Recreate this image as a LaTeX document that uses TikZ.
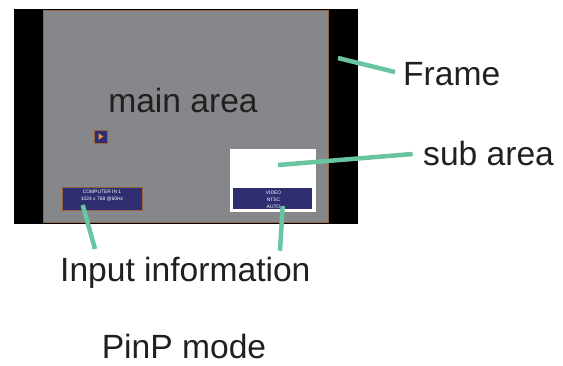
\documentclass[tikz,border=0pt]{standalone}
\usepackage{fontspec}
\setmainfont{Liberation Sans}
\definecolor{scrgray}{RGB}{134,135,138}
\definecolor{navy}{RGB}{46,46,112}
\definecolor{rim}{RGB}{150,100,60}
\definecolor{leadcol}{RGB}{104,197,160}
\definecolor{ink}{RGB}{35,31,32}
\definecolor{tri}{RGB}{240,150,40}
\begin{document}
\begin{tikzpicture}[x=1pt,y=-1pt,
  box/.style={inner sep=0pt, outer sep=0pt, anchor=north west},
  label/.style={text=ink, inner sep=0pt, font=\fontsize{33.6}{38}\selectfont},
  tiny/.style={text=white, inner sep=0pt, align=center, font=\fontsize{4.9}{7}\selectfont},
  leader/.style={draw=leadcol, line width=4.5pt}]
\useasboundingbox (0,0) rectangle (563,365);
% screen
\node[box, fill=black, minimum width=344pt, minimum height=215pt] (frame) at (14,9) {};
\node[box, fill=scrgray, draw=rim, line width=0.9pt, minimum width=285pt, minimum height=212.5pt] (main) at (43,10) {};
\node[box, fill=white, minimum width=86pt, minimum height=63pt] (sub) at (229.5,149) {};
\node[box, fill=navy, minimum width=79.5pt, minimum height=21pt] (vbox) at (232.5,188) {};
\node[box, fill=navy, draw=rim, line width=0.8pt, minimum width=80pt, minimum height=22.3pt] (cbox) at (62,187.7) {};
\node[box, fill=navy, draw=rim, line width=0.8pt, minimum width=13pt, minimum height=13pt] (icon) at (94,130) {};
\fill[tri] (98.5,133.2) -- (98.5,139.8) -- (103.2,136.5) -- cycle;
% small texts
\node[tiny] (ctext) at (102,195.5) {COMPUTER IN 1\\1024 x 768 @60Hz};
\node[tiny] (vtext) at (273.5,199.5) {VIDEO\\NTSC\\AUTO};
% labels
\node[label, anchor=base] (mainlbl) at (183,112) {main area};
\node[label, anchor=base west] (framelbl) at (403,85) {Frame};
\node[label, anchor=base west] (sublbl) at (423,165) {sub area};
\node[label, anchor=base west] (inputlbl) at (60,281.5) {Input information};
\node[label, anchor=base] (modelbl) at (184,358) {PinP mode};
% leaders
\coordinate (f1) at (338,58); \coordinate (f2) at (395,72);
\coordinate (s1) at (278,165); \coordinate (s2) at (412.7,154);
\coordinate (i1) at (82.7,205); \coordinate (i2) at (95,249);
\coordinate (j1) at (282.7,206); \coordinate (j2) at (280,250.7);
\draw[leader] (f1) -- (f2);
\draw[leader] (s1) -- (s2);
\draw[leader] (i1) -- (i2);
\draw[leader] (j1) -- (j2);
\end{tikzpicture}
\end{document}
